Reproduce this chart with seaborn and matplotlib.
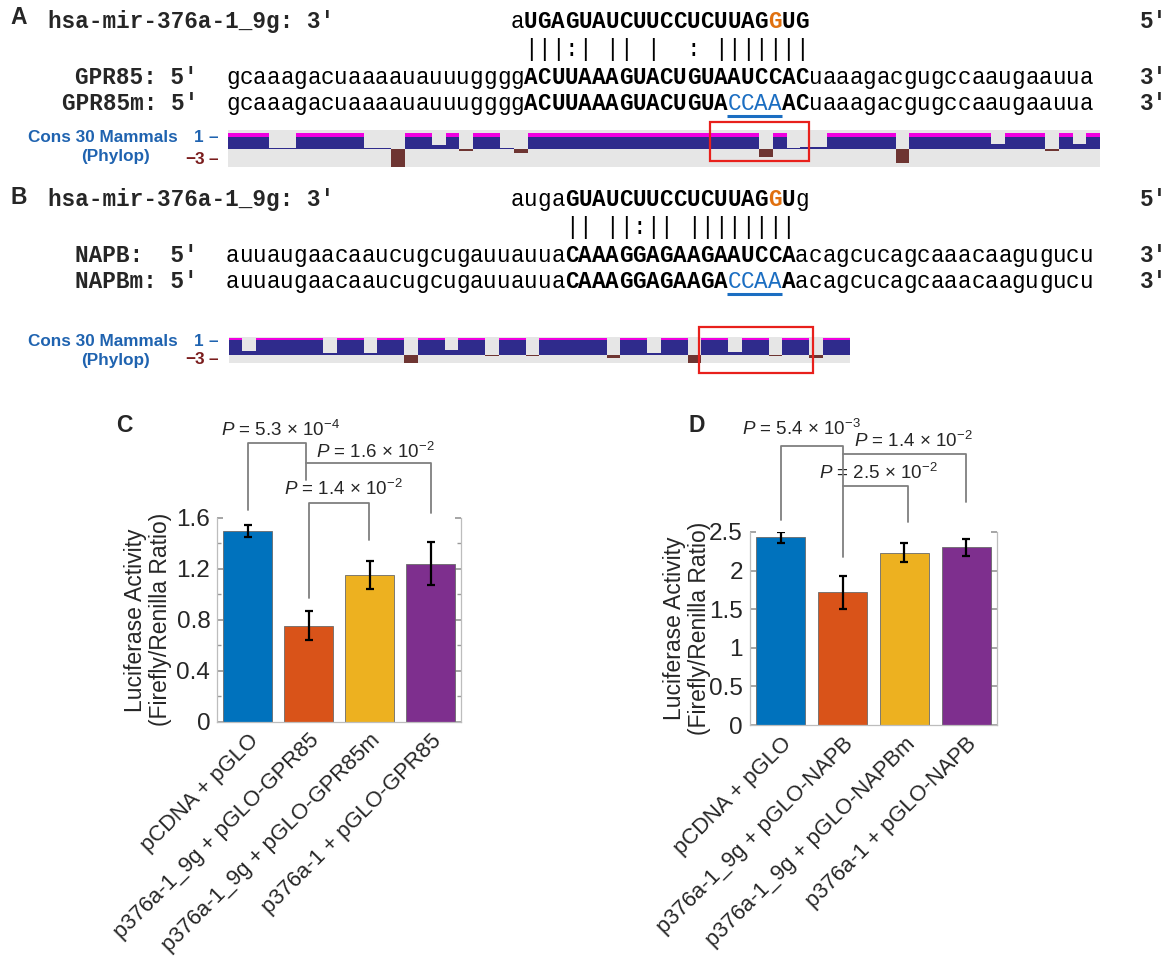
import numpy as np
import pandas as pd
import matplotlib
matplotlib.use("Agg")
import matplotlib.pyplot as plt
import seaborn as sns
from matplotlib.patches import Rectangle

# ---------------- data ----------------
mir_label = "hsa-mir-376a-1_9g: 3'"
mir_A = "aUGAGUAUCUUCCUCUUAGGUG"
pair_A = " |||:| || |  : |||||||"
target_A_names = ["GPR85:", "GPR85m:"]
gpr85 = "gcaaagacuaaaauauuuggggACUUAAAGUACUGUAAUCCACuaaagacgugccaaugaauua"
gpr85m = "gcaaagacuaaaauauuuggggACUUAAAGUACUGUACCAAACuaaagacgugccaaugaauua"

mir_B = "augaGUAUCUUCCUCUUAGGUg"
pair_B = "    || ||:|| |||||||| "
target_B_names = ["NAPB: ", "NAPBm:"]
napb = "auuaugaacaaucugcugauuauuaCAAAGGAGAAGAAUCCAacagcucagcaaacaagugucu"
napbm = "auuaugaacaaucugcugauuauuaCAAAGGAGAAGACCAAAacagcucagcaaacaagugucu"

mir_offset = 21          # miRNA aligned from target position 21
mir_highlight = 19       # orange G inside the miRNA
mut_idx = [37, 38, 39, 40]

# PhyloP (30 mammals) per-nucleotide values, clipped by the track view
phylop_A = [2, 2, 2, 0.06, 0.06, 2, 2, 2, 2, 2, 0.06, 0.06, -3, 2, 2, 0.35,
            2, -0.12, 2, 2, 0.06, -0.3, 2, 2, 2, 2, 2, 2, 2, 2, 2, 2,
            2, 2, 2, 2, 2, 2, 2, -0.6, 2, 0.08, 0.15, 0.15, 2, 2, 2, 2,
            2, -1.1, 2, 2, 2, 2, 2, 2, 0.42, 2, 2, 2, -0.15, 2, 0.42, 2]
phylop_B = [2, 0.3, 2, 2, 2, 2, 2, 0.15, 2, 2, 0.15, 2, 2, -1.0, 2, 2,
            0.35, 2, 2, -0.04, 2, 2, -0.04, 2, 2, 2, 2, 2, -0.2, 2, 2, 0.15,
            2, 2, -1.0, 2, 2, 0.2, 2, 2, -0.04, 2, 2, -0.2, 2, 2]

conds_C = ["pCDNA + pGLO", "p376a-1_9g + pGLO-GPR85",
           "p376a-1_9g + pGLO-GPR85m", "p376a-1 + pGLO-GPR85"]
vals_C = [1.50, 0.755, 1.15, 1.24]
err_C = [0.047, 0.115, 0.11, 0.17]
pC = [("5.3", "4"), ("1.6", "2"), ("1.4", "2")]

conds_D = ["pCDNA + pGLO", "p376a-1_9g + pGLO-NAPB",
           "p376a-1_9g + pGLO-NAPBm", "p376a-1 + pGLO-NAPB"]
vals_D = [2.43, 1.72, 2.23, 2.30]
err_D = [0.07, 0.215, 0.125, 0.115]
pD = [("5.4", "3"), ("1.4", "2"), ("2.5", "2")]

bar_colors = ["#0072BD", "#D95319", "#EDB120", "#7E2F8E"]

# ---------------- style ----------------
sns.set_theme(style="white")
plt.rcParams["font.family"] = ["Liberation Sans", "DejaVu Sans"]
plt.rcParams["mathtext.fontset"] = "custom"
plt.rcParams["mathtext.rm"] = "Liberation Sans"
plt.rcParams["mathtext.it"] = "Liberation Sans:italic"
plt.rcParams["mathtext.bf"] = "Liberation Sans:bold"

W, H = 1170, 960
fig = plt.figure(figsize=(W / 100, H / 100), dpi=100)
fig.patch.set_facecolor("white")


def rect_px(x0, y0, x1, y1):
    return [x0 / W, 1 - y1 / H, (x1 - x0) / W, (y1 - y0) / H]


MONO = "Liberation Mono"
SEQ_X0 = 226.0
PITCH = 13.55
FS_SEQ = 16.3
BLUE_TXT = "#1b6ec2"
ORANGE = "#e0700f"
NAVY = "#2f2b8c"
MAGENTA = "#f000e0"
BROWN = "#6e3532"
TRACK_BG = "#e6e6e6"
LBL_BLUE = "#1f63b0"
LBL_RED = "#7a1c1c"


# ---------------- conservation tracks ----------------
def draw_track(rect, vals, ylim, cap):
    ax = fig.add_axes(rect)
    v = np.asarray(vals, dtype=float)
    x = np.arange(len(v))
    ax.bar(x, np.clip(v, 0, 1.0), width=1.0, align="edge", color=NAVY, linewidth=0)
    ax.bar(x, np.where(v > 1.0, cap, 0.0), bottom=1.0, width=1.0, align="edge",
           color=MAGENTA, linewidth=0)
    ax.bar(x, np.minimum(v, 0), width=1.0, align="edge", color=BROWN, linewidth=0)
    ax.set_xlim(0, len(v))
    ax.set_ylim(*ylim)
    ax.set_facecolor(TRACK_BG)
    for s in ax.spines.values():
        s.set_visible(False)
    ax.set_xticks([])
    ax.set_yticks([])
    return ax


draw_track(rect_px(227.7, 130, 1100, 167), phylop_A, (-1.45, 1.55), 0.32)
draw_track(rect_px(228.5, 337, 850, 363), phylop_B, (-0.5, 1.22), 0.15)


# ---------------- bar charts ----------------
def bar_panel(rect, conds, vals, errs, ylim, major, minor, ticklabels,
              brackets, ptexts, pvals, label_x):
    ax = fig.add_axes(rect)
    df = pd.DataFrame({"cond": conds, "val": vals})
    sns.barplot(data=df, x="cond", y="val", hue="cond", palette=bar_colors,
                legend=False, errorbar=None, width=0.8, ax=ax, saturation=1,
                edgecolor="#6a6a6a", linewidth=0.6)
    ax.errorbar(np.arange(len(vals)), vals, yerr=errs, fmt="none",
                ecolor="black", elinewidth=1.6, capsize=3.2, capthick=1.6, zorder=5)
    ax.set_xlim(-0.5, 3.5)
    ax.set_ylim(*ylim)
    ax.set_yticks(major)
    ax.set_yticklabels(ticklabels)
    ax.set_yticks(minor, minor=True)
    ax.tick_params(axis="y", which="both", direction="in", left=True, right=True,
                   color="#9a9a9a", labelsize=17.5, pad=5)
    ax.tick_params(axis="y", which="major", length=4)
    ax.tick_params(axis="y", which="minor", length=3)
    ax.set_xticks(range(len(conds)))
    ax.set_xticklabels(conds, rotation=45, ha="right", rotation_mode="anchor",
                       fontsize=15.8)
    ax.tick_params(axis="x", length=0, pad=6)
    ax.set_xlabel("")
    ax.set_ylabel("Luciferase Activity\n(Firefly/Renilla Ratio)", fontsize=16.5,
                  va="center", linespacing=1.1)
    ax.yaxis.set_label_coords(label_x, 0.5)
    for side in ["left", "right", "bottom"]:
        ax.spines[side].set_color("#bdbdbd")
        ax.spines[side].set_linewidth(0.9)
    ax.spines["top"].set_visible(False)
    for seg in brackets:
        xs, ys = zip(*seg)
        ax.plot(xs, ys, color="#7f7f7f", lw=1.3, clip_on=False, zorder=4)
    for (tx, ty), (m, e) in zip(ptexts, pvals):
        ax.text(tx, ty, r"$\mathit{P}$ = " + m + r" × 10$^{-" + e + "}$",
                fontsize=13.5, ha="center", va="center", clip_on=False)
    return ax


brackets_C = [
    [(0, 1.66), (0, 2.19), (0.95, 2.19), (0.95, 1.90)],
    [(0.95, 2.03), (3.0, 2.03), (3.0, 1.64)],
    [(1.0, 0.97), (1.0, 1.72), (1.98, 1.72), (1.98, 1.43)],
]
ptext_C = [(0.53, 2.29), (2.09, 2.12), (1.56, 1.83)]
bar_panel(rect_px(217.2, 518, 461.4, 721.7), conds_C, vals_C, err_C, (0, 1.6),
          [0, 0.4, 0.8, 1.2, 1.6], [0.2, 0.6, 1.0, 1.4],
          ["0", "0.4", "0.8", "1.2", "1.6"], brackets_C, ptext_C, pC, -0.285)

brackets_D = [
    [(0, 2.65), (0, 3.62), (1.0, 3.62), (1.0, 2.17)],
    [(1.0, 3.51), (3.0, 3.51), (3.0, 2.89)],
    [(1.0, 3.10), (2.05, 3.10), (2.05, 2.63)],
]
ptext_D = [(0.34, 3.84), (2.15, 3.68), (1.58, 3.27)]
bar_panel(rect_px(749.8, 532, 997.2, 725), conds_D, vals_D, err_D, (0, 2.5),
          [0, 0.5, 1, 1.5, 2, 2.5], [],
          ["0", "0.5", "1", "1.5", "2", "2.5"], brackets_D, ptext_D, pD, -0.255)

# ---------------- overlay (sequence text) ----------------
ov = fig.add_axes([0, 0, 1, 1])
ov.set_xlim(0, W)
ov.set_ylim(H, 0)
ov.axis("off")
ov.patch.set_alpha(0)


def char_x(i):
    return SEQ_X0 + (i + 0.5) * PITCH


def draw_seq(y, seq, start=0, highlight=None, mutated=(), mono_weight=None):
    for i, ch in enumerate(seq):
        if ch == " ":
            continue
        pos = start + i
        color = "black"
        weight = "bold" if ch.isupper() else "normal"
        if mono_weight is not None:
            weight = mono_weight
        if highlight is not None and i == highlight:
            color = ORANGE
        if pos in mutated:
            color = BLUE_TXT
            weight = "normal"
        ov.text(char_x(pos), y, ch, family=MONO, fontsize=FS_SEQ, weight=weight,
                color=color, ha="center", va="baseline")
    if mutated:
        ov.plot([SEQ_X0 + min(mutated) * PITCH, SEQ_X0 + (max(mutated) + 1) * PITCH],
                [y + 6, y + 6], color=BLUE_TXT, lw=2.2, solid_capstyle="butt")


def block(y_mir, y_pair, y_t1, y_t2, mir, pair, names, t1, t2, letter, y_letter,
          lab_y):
    ov.text(10, y_letter, letter, fontsize=16.5, weight="bold", ha="left", va="center")
    ov.text(48, y_mir, mir_label, family=MONO, fontsize=FS_SEQ, weight="bold",
            ha="left", va="baseline")
    draw_seq(y_mir, mir, start=mir_offset, highlight=mir_highlight)
    ov.text(1140, y_mir, "5'", family=MONO, fontsize=FS_SEQ, weight="bold",
            ha="left", va="baseline")
    draw_seq(y_pair, pair, start=mir_offset, mono_weight="normal")
    for yy, nm, seq, mut in [(y_t1, names[0], t1, ()), (y_t2, names[1], t2, mut_idx)]:
        ov.text(198, yy, nm + " 5'", family=MONO, fontsize=FS_SEQ, weight="bold",
                ha="right", va="baseline")
        draw_seq(yy, seq, mutated=mut)
        ov.text(1140, yy, "3'", family=MONO, fontsize=FS_SEQ, weight="bold",
                ha="left", va="baseline")
    ov.text(178, lab_y[0], "Cons 30 Mammals", fontsize=12.3, weight="bold",
            color=LBL_BLUE, ha="right", va="center")
    ov.text(116, lab_y[1], "(Phylop)", fontsize=12.3, weight="bold",
            color=LBL_BLUE, ha="center", va="center")
    ov.text(199, lab_y[0], "1", fontsize=12.3, weight="bold", color=LBL_BLUE,
            ha="center", va="center")
    ov.text(213, lab_y[0], "–", fontsize=12.3, weight="bold", color=LBL_BLUE,
            ha="center", va="center")
    ov.text(205, lab_y[2], "−3", fontsize=12.3, weight="bold", color=LBL_RED,
            ha="right", va="center")
    ov.text(213, lab_y[2], "–", fontsize=12.3, weight="bold", color=LBL_RED,
            ha="center", va="center")


block(28, 56, 84, 110, mir_A, pair_A, target_A_names, gpr85, gpr85m, "A", 18,
      (137, 157, 160))
block(206, 234, 262, 288, mir_B, pair_B, target_B_names, napb, napbm, "B", 197,
      (341, 361, 359))

# red boxes marking the mutated seed sites
ov.add_patch(Rectangle((710, 121.7), 99, 39.3, fill=False, ec="#e8201c", lw=1.6))
ov.add_patch(Rectangle((698.7, 327), 114.3, 46, fill=False, ec="#e8201c", lw=1.6))

ov.text(116, 425, "C", fontsize=16.5, weight="bold", ha="left", va="center")
ov.text(688, 425, "D", fontsize=16.5, weight="bold", ha="left", va="center")

fig.savefig("out.png", dpi=100, facecolor="white")
